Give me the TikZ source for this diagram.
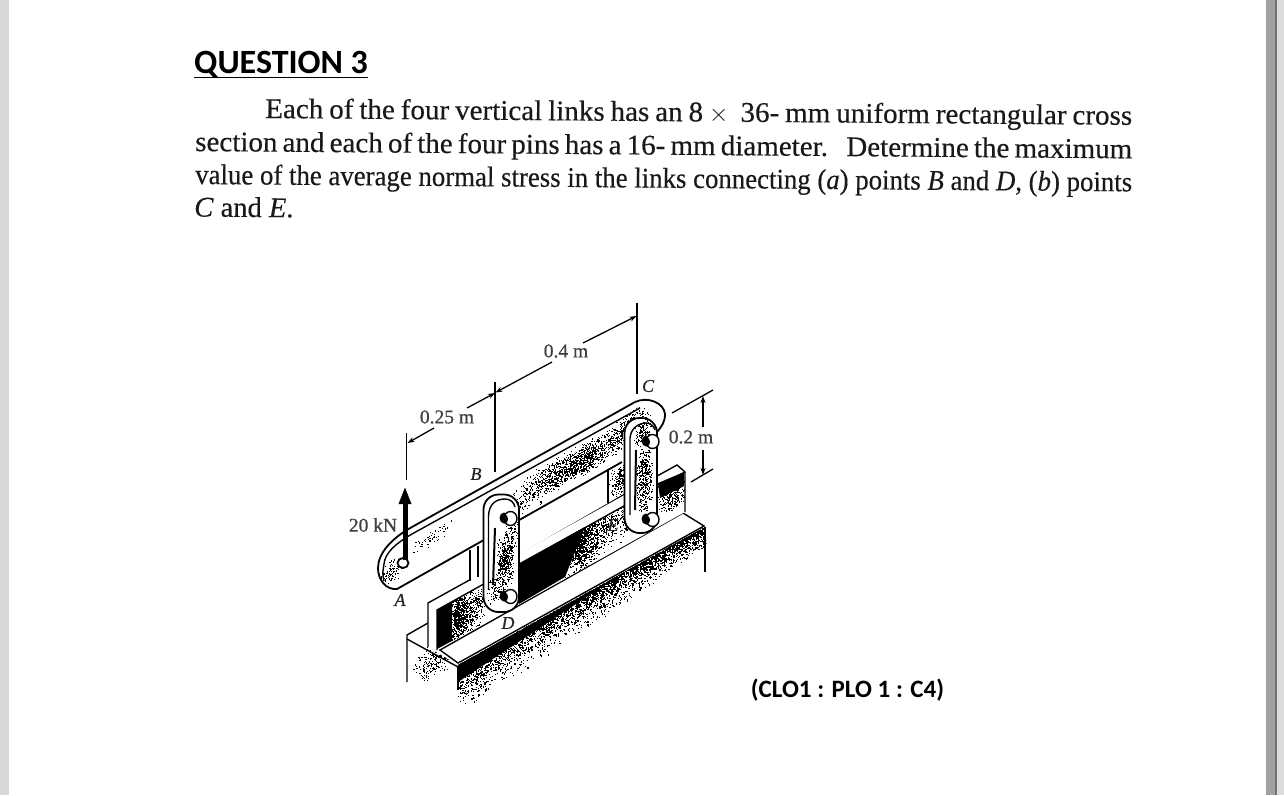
\documentclass[tikz,border=0pt]{standalone}
\usepackage{fontspec}
\usepackage{graphicx}
\setmainfont{Liberation Serif}
\newfontfamily\calibrifont{Carlito}
\newfontfamily\textfake{Liberation Serif}[FakeBold=0.35]
\newfontfamily\labelfake{Liberation Serif}[FakeBold=0.7]
\usetikzlibrary{arrows.meta}
\pgfmathsetseed{4217}
\newcommand\cloud[6][black]{\foreach \i in {1,...,#2}{\pgfmathsetmacro\ca{(rnd+rnd-1)*#5}\pgfmathsetmacro\cb{(rnd+rnd-1)*#6}\pgfmathsetmacro\cx{#3+\ca}\pgfmathsetmacro\cy{-(#4-.56*\ca+\cb)}\pgfpathrectangle{\pgfqpoint{\cx pt}{\cy pt}}{\pgfqpoint{1.1pt}{1.1pt}}\pgfusepath{fill}}}
\newcommand\band[5]{\foreach \i in {1,...,#1}{\pgfmathsetmacro\ca{rnd*#4}\pgfmathsetmacro\cb{rnd*rnd*#5*(1-0.55*\ca/#4)}\pgfmathsetmacro\cx{#2+\ca}\pgfmathsetmacro\cy{-(#3-.56*\ca+\cb)}\pgfpathrectangle{\pgfqpoint{\cx pt}{\cy pt}}{\pgfqpoint{1.2pt}{1.2pt}}\pgfusepath{fill}}}
\newcommand\pin[2]{%
  \fill[black] (#1-4,#2) ellipse[x radius=4.5,y radius=5.5];
  \draw[line width=1.4,fill=white] (#1+2.5,#2+.5) ellipse[x radius=6.5,y radius=7];
  \fill[black] (#1-3,#2+1) ellipse[x radius=3,y radius=4.5];}
\tikzset{
  ink/.style={line width=1.4,black},
  thick ink/.style={line width=1.8,black},
  dim/.style={line width=1.3,black},
  dimarrow/.style={line width=1.3,black,-{Stealth[length=7pt,width=5pt]}},
  label/.style={font=\labelfake\fontsize{19.5}{21}\selectfont,inner sep=0pt,text=black!75},
  point/.style={font=\labelfake\fontsize{18}{20}\selectfont\itshape,inner sep=0pt,text=black!85},
  body/.style={font=\textfake\fontsize{28.5}{30}\selectfont,anchor=base west,inner sep=0pt,rotate=-0.45,text=black!90},
}
\begin{document}
\begin{tikzpicture}[x=1pt,y=-1pt]
\useasboundingbox (0,0) rectangle (1284,795);
\fill[white] (0,0) rectangle (1284,795);
\fill[black!15] (0,0) rectangle (9,795);
\fill[black!37] (1266,0) rectangle (1275,795);
\fill[black!55] (1275,0) rectangle (1276.5,795);
\fill[black!14] (1276.5,0) rectangle (1284,795);

% --- text
\node[font=\calibrifont\bfseries\fontsize{34}{36}\selectfont,anchor=base west,inner sep=0pt] (title) at (194,73) {QUESTION 3};
\draw[line width=1.8] (194,77.5) -- (367.5,77.5);
\node[body] (l1) at (265,118) {\resizebox{867pt}{\height}{\makebox[850pt][s]{Each of the four vertical links has an 8\ $\times$\ \ 36- mm uniform rectangular cross}}};
\node[body] (l2) at (195,151) {\resizebox{937pt}{\height}{\makebox[920pt][s]{section and each of the four pins has a 16- mm diameter.\hspace{18pt}Determine the maximum}}};
\node[body] (l3) at (195,184) {\resizebox{937pt}{\height}{value of the average normal stress in the links connecting (\emph{a}) points \emph{B} and \emph{D}, (\emph{b}) points}};
\node[body] (l4) at (194,216.5) {\emph{C} and \emph{E}.};
\node[font=\calibrifont\bfseries\fontsize{25}{26}\selectfont,inner sep=0pt] (clo) at (847.5,690) {(CLO1 : PLO 1 : C4)};

% --- base block
\begin{scope}
\clip (407,635) -- (458,665) -- (705,527) -- (712,600) -- (470,705) -- (407,690) -- cycle;
\fill (458,665) -- (620,575) -- (458,682) -- cycle;
\band{4300}{458}{665}{250}{52}
\cloud{120}{480}{676}{24}{14}
\cloud{240}{436}{660}{24}{18}
\end{scope}
\draw[ink] (407,682) -- (407,635) -- (428,623);
\draw[ink] (407,639) -- (458,667);
\draw[ink] (458,666) -- (458,690);
\draw[ink] (705,527) -- (705,572);
\draw[ink,fill=white] (440,650) -- (458,663) -- (704,526) -- (683,513) -- cycle;

% --- vertical plate
\fill[white] (428,603) -- (428,647) -- (437,650) -- (685,512) -- (685,472) -- (677,465) -- cycle;
\fill[black] (437,610) -- (437,649) -- (452,641) -- (452,602) -- cycle;
\fill[black] (519,563.5) -- (519,604) -- (565,577) -- (585,527) -- cycle;
\fill[black] (658,483) -- (684,472) -- (684,486) -- (660,498) -- cycle;
\begin{scope}
\clip (437,610) -- (437,650) -- (685,512) -- (685,472) -- cycle;
\cloud{550}{458}{617}{10}{26}
\cloud{400}{470}{610}{17}{30}
\cloud{900}{582}{545}{18}{30}
\cloud{320}{603}{530}{20}{26}
\cloud{200}{628}{512}{14}{24}
\cloud{300}{672}{495}{15}{18}
\end{scope}
\draw[ink] (428,647) -- (428,603) -- (677,465) -- (685,472) -- (685,512);
\draw[ink] (437,650) -- (437,610) -- (685,472);

% --- block under the bar
\fill[white] (470,550) -- (470,582) -- (608,503) -- (608,470) -- cycle;
\fill[white] (608,470) -- (608,503) -- (630,490) -- (630,457) -- cycle;
\begin{scope}
\clip (608,470) -- (608,503) -- (630,490) -- (630,457) -- cycle;
\cloud{180}{620}{480}{12}{18}
\end{scope}
\draw[ink] (470,550) -- (470,581);
\draw[ink] (478,546) -- (478,577);
\draw[ink] (608,470) -- (608,503);

% --- main bar
\path[draw=none,fill=white] (635,402) -- (412,527) .. controls (392,538) and (378,553) .. (378,568) .. controls (378,580) and (386,590) .. (397,589) -- (622,462) -- (657,470) -- (657,432) .. controls (662,426) and (665,422) .. (665,414) .. controls (664,403) and (648,396) .. (635,402) -- cycle;
\begin{scope}
\clip (637,408) -- (412,534) -- (378,568) .. controls (378,580) and (386,590) .. (397,589) -- (622,462) -- (657,470) -- (657,432) .. controls (662,426) and (665,422) .. (665,414) .. controls (664,408) and (650,402) .. (637,408) -- cycle;
\cloud{1300}{578}{463}{60}{17}
\cloud{300}{630}{428}{22}{18}
\cloud{120}{522}{502}{30}{16}
\cloud{80}{391}{572}{12}{12}
\cloud{50}{432}{537}{22}{9}
\end{scope}
\draw[thick ink] (635,402) -- (412,527) .. controls (392,538) and (378,553) .. (378,568) .. controls (378,580) and (386,590) .. (397,589) -- (622,462);
\draw[thick ink] (635,402) .. controls (648,396) and (664,403) .. (665,414) .. controls (665,422) and (662,426) .. (657,432);
\draw[ink] (640,408) -- (412,534) .. controls (395,544) and (385,553) .. (384,564) .. controls (383,570) and (382,574) .. (384,581);
% pin hole A
\draw[thick ink,fill=white] (403,563) ellipse[x radius=5.5,y radius=5];

% --- link BD
\draw[thick ink,fill=white,rounded corners=15] (483.5,494.5) rectangle (519,612);
\begin{scope}
\clip[rounded corners=15] (483.5,494.5) rectangle (519,612);
\cloud{400}{505}{562}{9}{30}
\cloud{100}{495}{590}{10}{18}
\cloud{70}{512}{535}{8}{20}
\end{scope}
\draw[ink] (488.5,590) -- (488.5,516) .. controls (489,503) and (497,499) .. (505,499) .. controls (510,499) and (514,502) .. (515,507);
\draw[line width=2] (493,585) -- (495,528);
\pin{508}{518}
\pin{508}{596}

% --- link CE
\draw[thick ink,fill=white,rounded corners=15] (624.5,418) rectangle (657,533);
\begin{scope}
\clip[rounded corners=15] (624.5,418) rectangle (657,533);
\cloud{400}{644}{480}{9}{36}
\cloud{120}{642}{433}{10}{14}
\end{scope}
\draw[ink] (630,515) -- (630,438) .. controls (631,427) and (640,423) .. (646,423) .. controls (650,423) and (654,426) .. (655,430);
\draw[line width=2] (635,510) -- (636,450);
\pin{650}{441}
\pin{650}{519}

% --- force arrow
\draw[line width=5] (405,560) -- (405,502);
\fill (405,487.5) -- (411.5,504) -- (398.5,504) -- cycle;

% --- dimension lines
\coordinate (e1a) at (406.7,433);
\coordinate (e1b) at (406.7,480);
\coordinate (e2a) at (495,382);
\coordinate (e2b) at (495,472);
\coordinate (e3a) at (637,303);
\coordinate (e3b) at (637,394);
\draw[dim] (e1a) -- (e1b);
\draw[dim] (e2a) -- (e2b);
\draw[dim] (e3a) -- (e3b);
\coordinate (d1) at (434,428);
\coordinate (d1t) at (407.5,443);
\coordinate (d2) at (467,408);
\coordinate (d2t) at (495,393);
\coordinate (d3) at (552,362);
\coordinate (d3t) at (495.5,392.5);
\coordinate (d4) at (583,343);
\coordinate (d4t) at (636.5,316);
\draw[dimarrow] (d1) -- (d1t);
\draw[dimarrow] (d2) -- (d2t);
\draw[dimarrow] (d3) -- (d3t);
\draw[dimarrow] (d4) -- (d4t);
\coordinate (t1) at (672,413);
\coordinate (t2) at (713,390);
\coordinate (b1) at (691,482);
\coordinate (b2) at (713,469);
\draw[dim] (t1) -- (t2);
\draw[dim] (b1) -- (b2);
\coordinate (u1) at (703,427);
\coordinate (u2) at (703,396);
\coordinate (v1) at (703,450);
\coordinate (v2) at (703,475);
\draw[dimarrow] (u1) -- (u2);
\draw[dimarrow] (v1) -- (v2);

% --- labels
\node[label] (n025) at (447,417) {0.25 m};
\node[label] (n04) at (566,351) {0.4 m};
\node[label] (n02) at (691,437) {0.2 m};
\node[label] (n20) at (373,525) {20 kN};
\node[point] (pB) at (476,474) {B};
\node[point] (pC) at (648,386) {C};
\node[point] (pA) at (400,600) {A};
\node[point] (pD) at (508,623) {D};
\node[point] (pE) at (613,525) {E};
\end{tikzpicture}
\end{document}
